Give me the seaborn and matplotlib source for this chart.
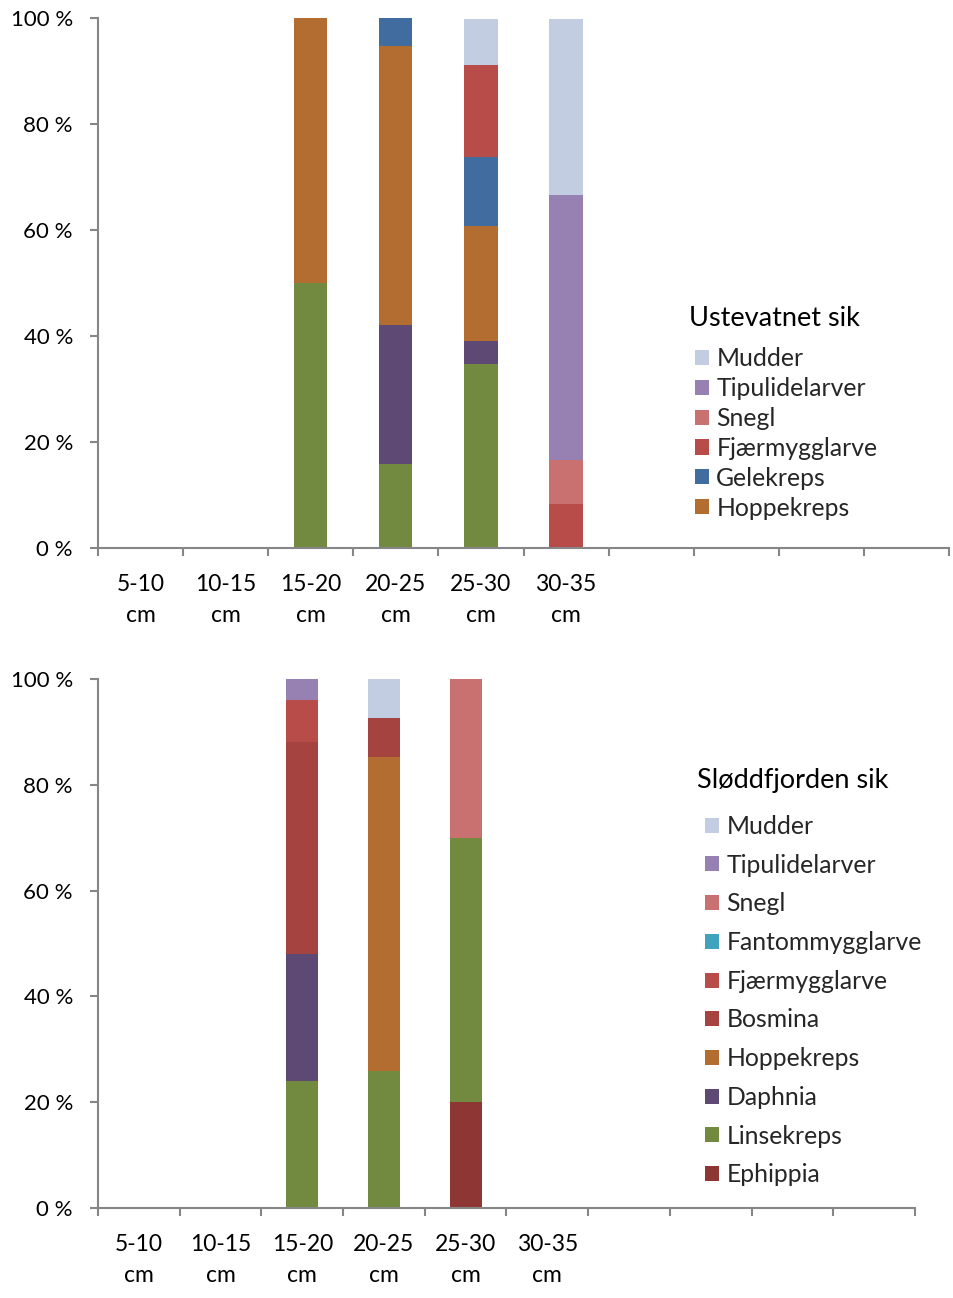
import matplotlib
matplotlib.use("Agg")
import matplotlib.pyplot as plt
from matplotlib.patches import Patch
from matplotlib.ticker import FixedLocator, FuncFormatter
import numpy as np
import pandas as pd
import seaborn as sns

# Length classes (6 labelled slots, the axis continues with 4 empty ones)
classes = ["5-10\ncm", "10-15\ncm", "15-20\ncm", "20-25\ncm", "25-30\ncm", "30-35\ncm"]
n_slots = 10

# Diet composition (% of stomach content) per length class
# --- Ustevatnet sik ---
ust_linsekreps = [0, 0, 50.0, 15.8, 34.8, 0]
ust_daphnia = [0, 0, 0, 26.3, 4.3, 0]
ust_hoppekreps = [0, 0, 50.0, 52.6, 21.7, 0]
ust_gelekreps = [0, 0, 0, 5.3, 13.0, 0]
ust_fjaermygglarve = [0, 0, 0, 0, 17.4, 8.3]
ust_snegl = [0, 0, 0, 0, 0, 8.3]
ust_tipulidelarver = [0, 0, 0, 0, 0, 50.0]
ust_mudder = [0, 0, 0, 0, 8.7, 33.3]

# --- Sløddfjorden sik ---
slo_ephippia = [0, 0, 0, 0, 20.0, 0]
slo_linsekreps = [0, 0, 24.0, 25.9, 50.0, 0]
slo_daphnia = [0, 0, 24.0, 0, 0, 0]
slo_hoppekreps = [0, 0, 0, 59.4, 0, 0]
slo_bosmina = [0, 0, 40.0, 7.4, 0, 0]
slo_fjaermygglarve = [0, 0, 8.0, 0, 0, 0]
slo_fantommygglarve = [0, 0, 0, 0, 0, 0]
slo_snegl = [0, 0, 0, 0, 30.0, 0]
slo_tipulidelarver = [0, 0, 4.0, 0, 0, 0]
slo_mudder = [0, 0, 0, 7.3, 0, 0]

colors = {
    "Mudder": "#C2CDE2",
    "Tipulidelarver": "#9781B3",
    "Snegl": "#C87170",
    "Fantommygglarve": "#3FA3BD",
    "Fjærmygglarve": "#B84C49",
    "Bosmina": "#A54341",
    "Hoppekreps": "#B46D30",
    "Gelekreps": "#406CA0",
    "Daphnia": "#5E4874",
    "Linsekreps": "#728A3F",
    "Ephippia": "#8E3634",
}

# Stacking order from bottom to top
ust_layers = [
    ("Linsekreps", ust_linsekreps),
    ("Daphnia", ust_daphnia),
    ("Hoppekreps", ust_hoppekreps),
    ("Gelekreps", ust_gelekreps),
    ("Fjærmygglarve", ust_fjaermygglarve),
    ("Snegl", ust_snegl),
    ("Tipulidelarver", ust_tipulidelarver),
    ("Mudder", ust_mudder),
]
ust_legend = ["Mudder", "Tipulidelarver", "Snegl", "Fjærmygglarve", "Gelekreps", "Hoppekreps"]

slo_layers = [
    ("Ephippia", slo_ephippia),
    ("Linsekreps", slo_linsekreps),
    ("Daphnia", slo_daphnia),
    ("Hoppekreps", slo_hoppekreps),
    ("Bosmina", slo_bosmina),
    ("Fjærmygglarve", slo_fjaermygglarve),
    ("Fantommygglarve", slo_fantommygglarve),
    ("Snegl", slo_snegl),
    ("Tipulidelarver", slo_tipulidelarver),
    ("Mudder", slo_mudder),
]
slo_legend = ["Mudder", "Tipulidelarver", "Snegl", "Fantommygglarve", "Fjærmygglarve",
              "Bosmina", "Hoppekreps", "Daphnia", "Linsekreps", "Ephippia"]

sns.set_theme(style="white")
plt.rcParams["font.family"] = ["Lato", "DejaVu Sans"]

AXIS_GREY = "#868686"
W, H = 954, 1298
fig = plt.figure(figsize=(W / 100, H / 100), dpi=100)


def stacked(ax, layers):
    # cumulative totals, drawn from the tallest down so each layer shows its own slice
    cum = np.cumsum(np.array([v for _, v in layers], dtype=float), axis=0)
    for (name, _), tops in reversed(list(zip(layers, cum))):
        df = pd.DataFrame({"klasse": classes, "andel": tops})
        sns.barplot(data=df, x="klasse", y="andel", order=classes, color=colors[name],
                    saturation=1, width=0.39, linewidth=0, ax=ax)


def style_axes(ax):
    ax.set_xlim(-0.5, n_slots - 0.5)
    ax.set_ylim(0, 100)
    ax.set_xlabel("")
    ax.set_ylabel("")
    for s in ("top", "right"):
        ax.spines[s].set_visible(False)
    for s in ("left", "bottom"):
        ax.spines[s].set_color(AXIS_GREY)
        ax.spines[s].set_linewidth(1.5)
    ax.xaxis.set_major_locator(FixedLocator(range(len(classes))))
    ax.set_xticklabels(classes, fontsize=16.5, linespacing=1.6)
    ax.xaxis.set_minor_locator(FixedLocator(np.arange(-0.5, n_slots, 1.0)))
    ax.tick_params(axis="x", which="major", length=0, pad=18.5, colors="black")
    ax.tick_params(axis="x", which="minor", length=6, width=1.5, color=AXIS_GREY, direction="out")
    ax.set_yticks(range(0, 101, 20))
    ax.yaxis.set_major_formatter(FuncFormatter(lambda v, _: f"{int(v)} %"))
    ax.tick_params(axis="y", which="major", length=6, width=1.5, color=AXIS_GREY,
                   direction="out", pad=12, labelsize=16, labelcolor="black")
    ax.tick_params(left=True, bottom=False, which="major")
    ax.tick_params(axis="x", which="minor", bottom=True)


def add_legend(ax, names, title, title_xy, anchor, spacing):
    fig.text(title_xy[0] / W, 1 - title_xy[1] / H, title, fontsize=19.5,
             ha="left", va="center", color="black")
    handles = [Patch(facecolor=colors[n], edgecolor="none") for n in names]
    leg = ax.legend(handles, names, loc="upper left",
                    bbox_to_anchor=(anchor[0] / W, 1 - anchor[1] / H),
                    bbox_transform=fig.transFigure,
                    frameon=False, fontsize=17.8,
                    handlelength=0.56, handleheight=0.56, handletextpad=0.3,
                    labelspacing=spacing, borderaxespad=0, borderpad=0)
    return leg


ax1 = fig.add_axes([98 / W, 1 - 548 / H, (949 - 98) / W, (548 - 18) / H])
stacked(ax1, ust_layers)
style_axes(ax1)
add_legend(ax1, ust_legend, "Ustevatnet sik", (689, 318), (695, 347), 0.28)

ax2 = fig.add_axes([98 / W, 1 - 1208 / H, (915 - 98) / W, (1208 - 679) / H])
stacked(ax2, slo_layers)
style_axes(ax2)
add_legend(ax2, slo_legend, "Sløddfjorden sik", (697, 781), (705, 815), 0.635)

fig.savefig("out.png", dpi=100)
